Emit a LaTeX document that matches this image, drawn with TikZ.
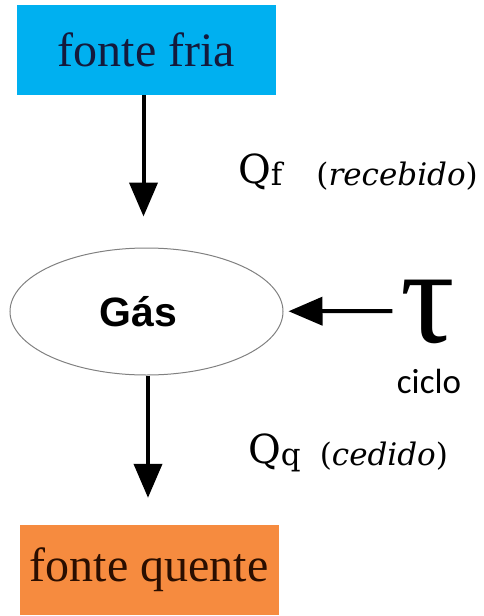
\documentclass[tikz,border=0pt]{standalone}
\usepackage{fontspec}
\setmainfont{Liberation Serif}
\newfontfamily\gasfont{Liberation Sans}
\newfontfamily\ciclofont{Carlito}
\newfontfamily\qfont{DejaVu Serif}
\usetikzlibrary{arrows.meta,shapes,positioning}
\definecolor{friablue}{HTML}{00B0F0}
\definecolor{friatext}{HTML}{141A3C}
\definecolor{quenteorange}{HTML}{F68B3F}
\definecolor{quentetext}{HTML}{2A0E00}

\begin{document}
\begin{tikzpicture}[x=1pt,y=-1pt,
  seta/.style={-{Triangle[length=34pt,width=28pt]},line width=4pt},
  every ellipse node/.append style={draw=gray,line width=1pt}]
  \tikzstyle{fonte} = [minimum width=259pt,minimum height=90pt,inner sep=0pt,font=\fontsize{48}{48}\selectfont]
  \tikzstyle{calor} = [anchor=base west,inner sep=0pt,font=\qfont]
  \useasboundingbox (0,0) rectangle (484,616);
  \node (fria) [fonte,fill=friablue,text=friatext] at (146.5,50) {fonte fria};
  \node (gas) [ellipse,minimum width=273pt,minimum height=127pt,
    font=\gasfont\bfseries\fontsize{41}{41}\selectfont] at (146.5,311.5) {Gás\kern16pt};
  \node (quente) [fonte,fill=quenteorange,text=quentetext] at (149,570) {fonte quente};
  \node (tau) [inner sep=0pt,text height=62pt,text depth=0pt,anchor=base,
    font=\fontsize{136}{136}\selectfont] at (428,342) {τ};
  \node (ciclo) [inner sep=0pt,font=\ciclofont\fontsize{35}{35}\selectfont] at (429,381) {ciclo};
  \node (Qf) [calor] at (238,183)
    {{\fontsize{40}{40}\selectfont Q}\raisebox{-2pt}{\fontsize{31}{31}\selectfont f\hspace{34pt}(\textit{recebido})}};
  \node (Qq) [calor] at (248,463)
    {{\fontsize{40}{40}\selectfont Q}\raisebox{-2pt}{\fontsize{31}{31}\selectfont q\hspace{19pt}(\textit{cedido})}};
  \draw [seta,shorten >=31pt] ([xshift=-3pt]fria.south) -- ([xshift=-3pt]gas.north);
  \draw [seta,shorten >=27pt] ([xshift=1.5pt]gas.south) -- ([xshift=-1pt]quente.north);
  \draw [seta,shorten <=8pt,shorten >=5pt] (tau) -- (gas);
\end{tikzpicture}
\end{document}
